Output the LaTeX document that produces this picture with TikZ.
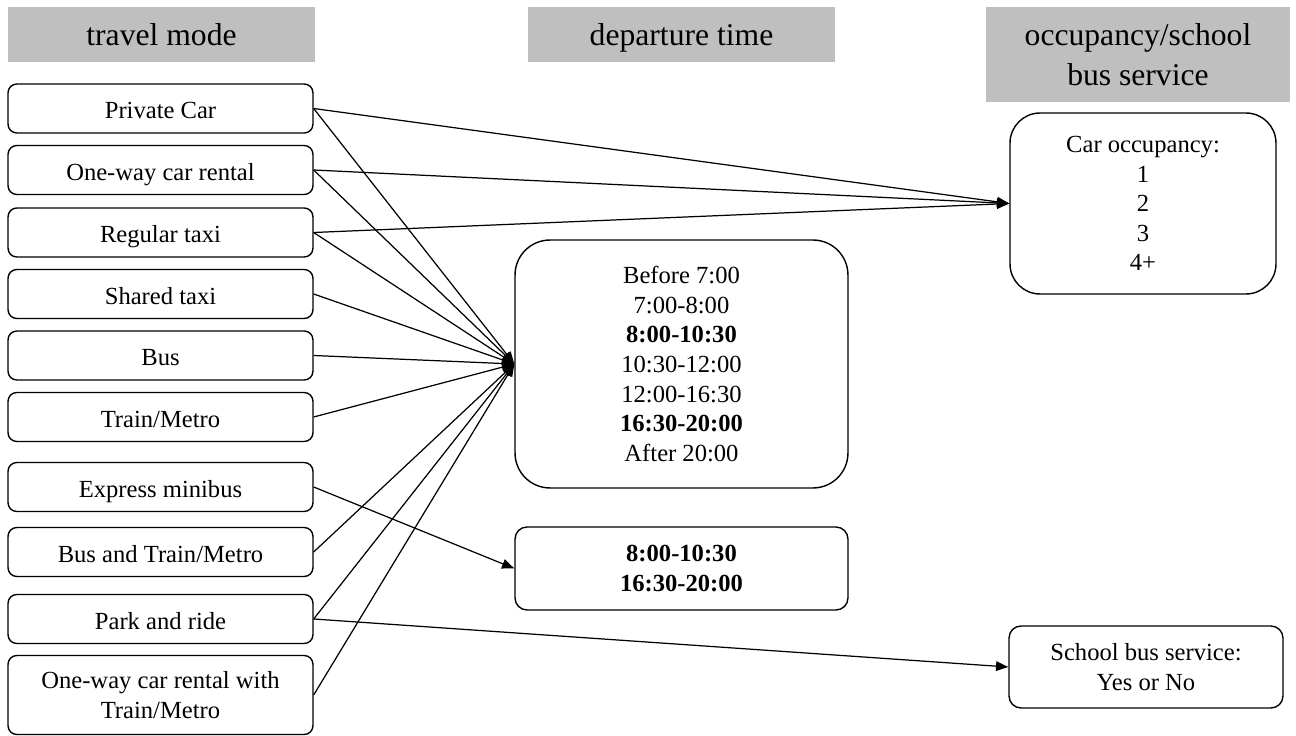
\documentclass[tikz,border=0pt]{standalone}
\usepackage{fontspec}
\setmainfont{Liberation Serif}
\usetikzlibrary{arrows.meta,positioning}
\definecolor{hdrgray}{HTML}{BFBFBF}

\begin{document}
\begin{tikzpicture}[
  x=0.02cm, y=-0.02cm,
  hdrbox/.style={fill=hdrgray, minimum width=6.14cm, minimum height=1.1cm, align=center, inner sep=0pt, font=\fontsize{18}{23}\selectfont},
  hdr/.style={hdrbox, text height=12.5pt, text depth=0pt},
  modebox/.style={draw, rounded corners=5pt, line width=0.8pt, minimum width=6.1cm, minimum height=0.98cm, align=center, inner sep=2pt, font=\fontsize{14}{17}\selectfont},
  mode/.style={modebox, text height=11.5pt, text depth=0pt},
  slot/.style={draw, line width=0.8pt, align=center, inner sep=2pt, font=\fontsize{14}{16.8}\selectfont},
  arrow/.style={-{Triangle[length=7pt, width=5.5pt]}, line width=0.7pt}
]
  \useasboundingbox (0,0) rectangle (1296,736);

  % column headers
  \node[hdr] (hmode) at (161.5,34.5) {travel mode};
  \node[hdr] (htime) at (681.5,34.5) {departure time};
  \node[hdrbox, minimum width=6.1cm, minimum height=1.9cm] (hocc) at (1138,54.5) {occupancy/school\\bus service};

  % travel modes
  \node[mode] (car) at (160.5,108.5) {Private Car};
  \node[mode] (rental) at (160.5,170) {One-way car rental};
  \node[mode] (taxi) at (160.5,232.5) {Regular taxi};
  \node[mode] (shtaxi) at (160.5,294) {Shared taxi};
  \node[mode] (bus) at (160.5,355.5) {Bus};
  \node[mode] (train) at (160.5,417) {Train/Metro};
  \node[mode] (minibus) at (160.5,487) {Express minibus};
  \node[mode] (bustrain) at (160.5,552) {Bus and Train/Metro};
  \node[mode] (parkride) at (160.5,619) {Park and ride};
  \node[modebox, minimum height=1.58cm] (rentaltrain) at (160.5,695) {One-way car rental with\\Train/Metro};

  % departure times
  \node[slot, minimum width=6.66cm, minimum height=4.96cm, rounded corners=0.7cm] (dep) at (681.5,364)
    {Before 7:00\\7:00-8:00\\\textbf{8:00-10:30}\\10:30-12:00\\12:00-16:30\\\textbf{16:30-20:00}\\After 20:00};
  \node[slot, minimum width=6.66cm, minimum height=1.66cm, rounded corners=0.24cm] (peak) at (681.5,568.5)
    {\textbf{8:00-10:30}\\\textbf{16:30-20:00}};

  % occupancy / school bus
  \node[slot, minimum width=5.32cm, minimum height=3.62cm, rounded corners=0.6cm] (occ) at (1143,203.5)
    {Car occupancy:\\1\\2\\3\\4+};
  \node[slot, minimum width=5.48cm, minimum height=1.64cm, rounded corners=0.24cm] (school) at (1146,667)
    {School bus service:\\Yes or No};

  \draw[arrow] (car.east) -- (dep.west);
  \draw[arrow] (rental.east) -- (dep.west);
  \draw[arrow] (taxi.east) -- (dep.west);
  \draw[arrow] (shtaxi.east) -- (dep.west);
  \draw[arrow] (bus.east) -- (dep.west);
  \draw[arrow] (train.east) -- (dep.west);
  \draw[arrow] (bustrain.east) -- (dep.west);
  \draw[arrow] (parkride.east) -- (dep.west);
  \draw[arrow] (rentaltrain.east) -- (dep.west);
  \draw[arrow] (minibus.east) -- (peak.west);

  \draw[arrow] (car.east) -- (occ.west);
  \draw[arrow] (rental.east) -- (occ.west);
  \draw[arrow] (taxi.east) -- (occ.west);
  \draw[arrow] (parkride.east) -- (school.west);
\end{tikzpicture}
\end{document}
